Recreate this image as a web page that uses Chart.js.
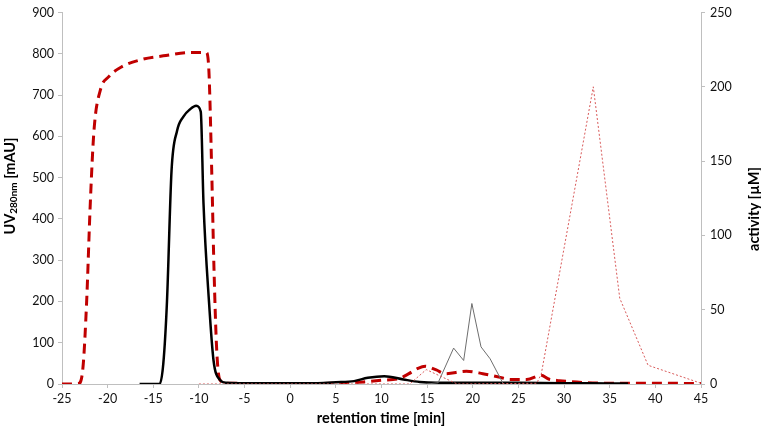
<!DOCTYPE html>
<html>
<head>
    <meta charset="UTF-8">
    <title>Retention time chart</title>
    <script src="https://cdn.jsdelivr.net/npm/chart.js"></script>
    <style>
        body {
            margin: 0;
            background: #fff;
        }
        #wrap {
            width: 761px;
            height: 431px;
        }
    </style>
</head>
<body>
    <div id="wrap"><canvas id="chart"></canvas></div>
    <script>
        // UV 280nm trace (black, left axis)
        const uvTime = [-16.5, -14.3, -13.9, -13.5, -13.0, -12.4, -11.7, -11.0, -10.3, -9.8, -9.5, -8.9, -8.4, -7.7, -7.0, -5, 0, 3, 5, 7, 8.5, 10.3, 12.4, 14.2, 16, 20, 25, 30, 33, 37];
        const uvValues = [0, 0, 50, 200, 517, 613, 648, 665, 674, 660, 438, 200, 57, 10, 3, 2, 2, 2, 4, 7, 15, 19, 11, 5, 3, 3, 3, 2, 2, 1];

        // red dashed trace (left axis)
        const redTime = [-25, -23.2, -22.7, -22.3, -21.9, -21.5, -20.8, -19.9, -18.5, -16.1, -13.9, -11.0, -9.2, -8.9, -8.6, -8.35, -8.05, -7.7, -7, 0, 5, 8, 10, 12, 13, 14, 14.8, 16, 17, 19.3, 21.1, 23, 24.1, 25.9, 27.5, 28.3, 29.5, 32.5, 35, 40, 45];
        const redValues = [0, 1, 41, 200, 438, 613, 712, 744, 768, 787, 795, 803, 803, 755, 517, 279, 81, 10, 2, 1, 2, 5, 9, 14, 25, 38, 43, 34, 25, 31, 25, 16, 11, 11, 21, 12, 8, 3, 2, 2, 1];

        // thin grey trace (left axis)
        const greyTime = [15, 16.2, 17.9, 19.0, 19.9, 20.9, 21.9, 23.3];
        const greyValues = [0, 3, 87, 57, 195, 90, 61, 2];

        // activity (red dotted, right axis)
        const actTime = [-10, 13.1, 14.9, 18.3, 27.0, 27.5, 33.2, 36.1, 39.2, 45];
        const actValues = [0, 0, 9.7, 0, 0.5, 6.6, 200, 57.7, 12.6, 0.5];

        const xTicks = { min: -25, max: 45, step: 5 };
        const leftTicks = { min: 0, max: 900, step: 100 };
        const rightTicks = { min: 0, max: 250, step: 50 };

        const pts = (xs, ys) => xs.map((x, i) => ({ x: x, y: ys[i] }));

        const FONT = 'Lato, "Open Sans", sans-serif';
        const AXIS_COLOR = '#BFBFBF';

        const titles = {
            id: 'titles',
            afterDraw(chart) {
                const ctx = chart.ctx;
                ctx.save();
                ctx.fillStyle = '#000';
                ctx.textBaseline = 'middle';

                // left title with subscript
                ctx.save();
                ctx.translate(10, 186);
                ctx.rotate(-Math.PI / 2);
                const big = 'bold 14.5px ' + FONT;
                const small = 'bold 10px ' + FONT;
                ctx.font = big;
                const w1 = ctx.measureText('UV').width;
                const w3 = ctx.measureText(' [mAU]').width;
                ctx.font = small;
                const w2 = ctx.measureText('280nm').width;
                let x = -(w1 + w2 + w3) / 2;
                ctx.textAlign = 'left';
                ctx.font = big;
                ctx.fillText('UV', x, 0);
                x += w1;
                ctx.font = small;
                ctx.fillText('280nm', x, 4);
                x += w2;
                ctx.font = big;
                ctx.fillText(' [mAU]', x, 0);
                ctx.restore();

                // right title
                ctx.save();
                ctx.translate(754, 209);
                ctx.rotate(-Math.PI / 2);
                ctx.textAlign = 'center';
                ctx.font = 'bold 14.5px ' + FONT;
                ctx.fillText('activity [\u00B5M]', 0, 0);
                ctx.restore();

                // x title
                ctx.textAlign = 'center';
                ctx.font = 'bold 14.5px ' + FONT;
                ctx.fillText('retention time [min]', 381, 418);
                ctx.restore();
            }
        };

        const tickFont = { family: FONT, size: 12.5 };

        const chart = new Chart(document.getElementById('chart'), {
            type: 'line',
            data: {
                datasets: [{
                    label: 'activity',
                    data: pts(actTime, actValues),
                    yAxisID: 'y2',
                    borderColor: '#D85A5A',
                    borderWidth: 1,
                    borderDash: [2, 2],
                    pointRadius: 0,
                    tension: 0
                }, {
                    label: 'grey',
                    data: pts(greyTime, greyValues),
                    yAxisID: 'y',
                    borderColor: '#6E6E6E',
                    borderWidth: 1,
                    pointRadius: 0,
                    tension: 0
                }, {
                    label: 'UV',
                    data: pts(uvTime, uvValues),
                    yAxisID: 'y',
                    borderColor: '#000',
                    borderWidth: 2.5,
                    pointRadius: 0,
                    cubicInterpolationMode: 'monotone'
                }, {
                    label: 'red',
                    data: pts(redTime, redValues),
                    yAxisID: 'y',
                    borderColor: '#C00000',
                    borderWidth: 3,
                    borderDash: [10, 6],
                    pointRadius: 0,
                    cubicInterpolationMode: 'monotone'
                }]
            },
            options: {
                responsive: true,
                maintainAspectRatio: false,
                animation: false,
                layout: { padding: { top: 6, left: 0, right: 0, bottom: 0 } },
                plugins: {
                    legend: { display: false },
                    tooltip: { enabled: false }
                },
                scales: {
                    x: {
                        type: 'linear',
                        min: xTicks.min,
                        max: xTicks.max,
                        afterFit(s) { s.height = 47; },
                        border: { color: AXIS_COLOR },
                        grid: { drawOnChartArea: false, tickLength: 4, color: AXIS_COLOR },
                        ticks: { stepSize: xTicks.step, color: '#111', padding: 3, font: tickFont }
                    },
                    y: {
                        position: 'left',
                        min: leftTicks.min,
                        max: leftTicks.max,
                        afterFit(s) { s.width = 62; },
                        border: { color: AXIS_COLOR },
                        grid: { drawOnChartArea: false, tickLength: 4, color: AXIS_COLOR },
                        ticks: { stepSize: leftTicks.step, color: '#111', padding: 4, font: tickFont }
                    },
                    y2: {
                        position: 'right',
                        min: rightTicks.min,
                        max: rightTicks.max,
                        afterFit(s) { s.width = 60; },
                        border: { color: AXIS_COLOR },
                        grid: { drawOnChartArea: false, tickLength: 4, color: AXIS_COLOR },
                        ticks: { stepSize: rightTicks.step, color: '#111', padding: 5, font: tickFont }
                    }
                }
            },
            plugins: [titles]
        });
    </script>
</body>
</html>
